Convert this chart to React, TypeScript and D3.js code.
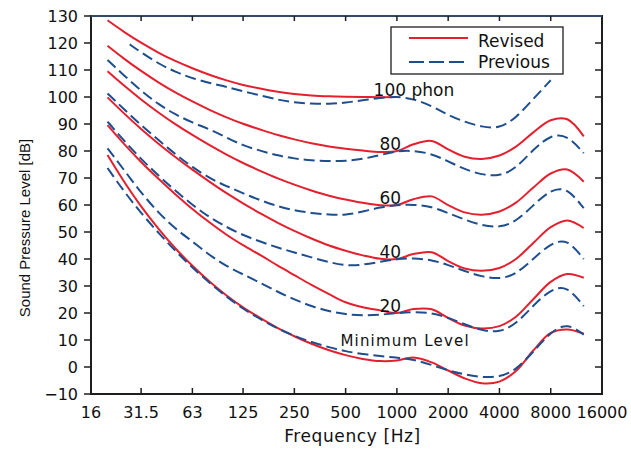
import { useEffect, useRef } from "react";
import * as d3 from "d3";

// nominal 1/3-octave frequencies [Hz]
const FREQS = [
  20, 25, 31.5, 40, 50, 63, 80, 100, 125, 160, 200, 250, 315, 400, 500, 630,
  800, 1000, 1250, 1600, 2000, 2500, 3150, 4000, 5000, 6300, 8000, 10000, 12500,
];

// revised contours [dB]
const REVISED_100 = [
  128.41, 124.15, 120.11, 116.38, 113.35, 110.65, 108.16, 106.17, 104.48,
  103.03, 101.94, 101.12, 100.56, 100.24, 100.09, 100.01, 99.94, 100,
];
const REVISED_80 = [
  118.99, 114.23, 109.65, 105.34, 101.72, 98.36, 95.17, 92.48, 90.09, 87.82,
  85.92, 84.31, 82.89, 81.68, 80.86, 80.17, 79.67, 80, 82.48, 83.74, 80.59,
  77.89, 77.07, 78.31, 81.62, 86.81, 91.41, 91.74, 85.41,
];
const REVISED_60 = [
  109.51, 104.23, 99.08, 94.18, 89.96, 85.94, 82.05, 78.65, 75.56, 72.47,
  69.86, 67.53, 65.39, 63.45, 62.05, 60.81, 59.88, 60, 62.15, 63.19, 59.96,
  57.26, 56.42, 57.57, 60.89, 66.36, 71.66, 73.15, 68.63,
];
const REVISED_40 = [
  99.85, 93.94, 88.17, 82.63, 77.78, 73.08, 68.48, 64.37, 60.59, 56.7, 53.41,
  50.4, 47.58, 44.98, 43.05, 41.34, 40.06, 40.01, 41.82, 42.51, 39.23, 36.51,
  35.61, 36.65, 40.01, 45.83, 51.8, 54.29, 51.49,
];
const REVISED_20 = [
  89.58, 82.65, 75.95, 69.62, 64.02, 58.55, 53.4, 48.97, 45.1, 41.22, 37.53,
  34.02, 30.43, 26.99, 23.97, 22.11, 20.97, 20, 21.46, 21.4, 18.15, 15.38,
  14.26, 15.14, 18.63, 25.02, 31.52, 34.43, 33.04,
];
const REVISED_MIN = [
  78.5, 68.7, 59.5, 51.1, 44.0, 37.5, 31.5, 26.5, 22.1, 17.9, 14.4, 11.4, 8.6,
  6.2, 4.4, 3.0, 2.2, 2.4, 3.5, 1.7, -1.3, -4.2, -6.0, -5.4, -1.5, 6.0, 12.6,
  13.9, 12.3,
];

// previous contours [dB]
const PREVIOUS_100_FREQS = [
  27, 31.5, 40, 50, 63, 80, 100, 125, 160, 200, 250, 315, 400, 500, 630, 800,
  1000, 1250, 1600, 2000, 2500, 3150, 4000, 5000, 6300, 8000,
];
const PREVIOUS_100 = [
  119.5, 116.5, 112.3, 109.3, 106.9, 105.1, 103.8, 102.1, 100.5, 99, 97.9,
  97.5, 97.4, 97.9, 98.8, 99.7, 100.2, 99.3, 96.8, 93.2, 90.8, 88.9, 88.3,
  92.2, 99.2, 106.2,
];
const PREVIOUS_80 = [
  113.7, 108, 102.3, 97.2, 93.5, 90.5, 88, 85, 82, 80, 78.3, 77.2, 76.5, 76.2,
  76.3, 77, 78.5, 80, 80.2, 79, 76.2, 73.2, 71.2, 70.6, 73.5, 80.5, 86, 86,
  79.2,
];
const PREVIOUS_60 = [
  101.3, 95.5, 89.5, 84, 78.8, 74, 69.8, 67, 64.3, 61.6, 59.5, 58, 57, 56.4,
  56.3, 57.5, 59.2, 60, 60.2, 59.4, 57, 54.6, 52.4, 51.6, 53.8, 59.8, 65.8,
  66.5, 58.8,
];
const PREVIOUS_40 = [
  90.9, 83.8, 77, 70.8, 65.3, 60, 55.3, 51.8, 48.8, 46.3, 44.2, 42.4, 40.6,
  38.8, 37.5, 37.8, 39, 40, 40.3, 39.7, 37.8, 35.5, 33.5, 32.5, 34.3, 40, 45.8,
  47.6, 40,
];
const PREVIOUS_20 = [
  81, 73, 64.5, 57, 51.2, 46.5, 41.3, 37.3, 34.3, 31, 27.8, 25, 22.5, 20.6,
  19.5, 19.1, 19.3, 20, 20.4, 20.1, 18.3, 15.8, 13.5, 12.8, 15.8, 22.7, 28.8,
  30.2, 22.5,
];
const PREVIOUS_MIN = [
  73.7, 65, 57, 49.5, 43, 36.8, 31, 26, 21.5, 17.5, 14.2, 11.5, 9.2, 7.3, 5.8,
  4.8, 4, 3.5, 2.8, 0.8, -1.3, -2.8, -3.8, -3.8, -1.2, 5.5, 13, 16.4, 12,
];

const X_TICKS = [16, 31.5, 63, 125, 250, 500, 1000, 2000, 4000, 8000, 16000];
const X_TICK_LABELS = [
  "16", "31.5", "63", "125", "250", "500", "1000", "2000", "4000", "8000", "16000",
];
const Y_TICKS = [130, 120, 110, 100, 90, 80, 70, 60, 50, 40, 30, 20, 10, 0, -10];

// contour labels: text, start frequency, level
const LABEL_TEXTS = ["100 phon", "80", "60", "40", "20", "Minimum Level"];
const LABEL_FREQS = [730, 790, 790, 790, 790, 466];
const LABEL_LEVELS = [100, 80, 60, 40, 20, 7.5];

const RED = "#e5202e";
const BLUE = "#1f4e8f";
const FRAME = "#1e1e1e";
const TEXT_FONT = "'DejaVu Sans', sans-serif";

const W = 631;
const H = 450;

export default function App() {
  const ref = useRef<SVGSVGElement | null>(null);

  useEffect(() => {
    const el = ref.current;
    if (!el) return;
    const svg = d3.select(el);
    svg.selectAll("*").remove();

    const margin = { top: 16, right: 29, bottom: 56, left: 91 };
    const x = d3
      .scaleLog()
      .base(2)
      .domain([16, 16000])
      .range([margin.left, W - margin.right]);
    const y = d3
      .scaleLinear()
      .domain([-10, 130])
      .range([H - margin.bottom, margin.top]);

    const revLine = d3
      .line<[number, number]>()
      .x((d) => x(d[0]))
      .y((d) => y(d[1]))
      .curve(d3.curveCatmullRom.alpha(0.5));
    const prevLine = d3
      .line<[number, number]>()
      .x((d) => x(d[0]))
      .y((d) => y(d[1]))
      .curve(d3.curveBasis);

    const zip = (fs: number[], vs: number[]) =>
      vs.map((v, i) => [fs[i], v] as [number, number]);

    const revised = [
      REVISED_100, REVISED_80, REVISED_60, REVISED_40, REVISED_20, REVISED_MIN,
    ].map((vs) => zip(FREQS, vs));
    const previous = [
      zip(PREVIOUS_100_FREQS, PREVIOUS_100),
      ...[PREVIOUS_80, PREVIOUS_60, PREVIOUS_40, PREVIOUS_20, PREVIOUS_MIN].map(
        (vs) => zip(FREQS, vs)
      ),
    ];

    const plot = svg.append("g");

    plot
      .selectAll("path.rev")
      .data(revised)
      .join("path")
      .attr("class", "rev")
      .attr("d", (d) => revLine(d))
      .attr("fill", "none")
      .attr("stroke", RED)
      .attr("stroke-width", 2);

    plot
      .selectAll("path.prev")
      .data(previous)
      .join("path")
      .attr("class", "prev")
      .attr("d", (d) => prevLine(d))
      .attr("fill", "none")
      .attr("stroke", BLUE)
      .attr("stroke-width", 2)
      .attr("stroke-dasharray", "11,5");

    // contour labels
    svg
      .append("g")
      .selectAll("text")
      .data(LABEL_TEXTS)
      .join("text")
      .attr("x", (_, i) => x(LABEL_FREQS[i]))
      .attr("y", (_, i) => y(LABEL_LEVELS[i]) - 1)
      .attr("font-family", TEXT_FONT)
      .attr("font-size", (_, i) => (i === 5 ? 15 : 17))
      .attr("letter-spacing", (_, i) => (i === 5 ? 1.2 : 0))
      .attr("fill", "#111")
      .text((d) => d);

    // frame
    const [x0, x1] = x.range();
    const [yb, yt] = y.range();
    svg
      .append("rect")
      .attr("x", x0)
      .attr("y", yt)
      .attr("width", x1 - x0)
      .attr("height", yb - yt)
      .attr("fill", "none")
      .attr("stroke", FRAME)
      .attr("stroke-width", 2);
    svg
      .append("line")
      .attr("x1", x0)
      .attr("x2", x1)
      .attr("y1", yt)
      .attr("y2", yt)
      .attr("stroke", "#2e4b6a")
      .attr("stroke-width", 2);

    // x ticks (inward, bottom and top)
    const xt = svg.append("g");
    X_TICKS.slice(1, -1).forEach((f) => {
      xt.append("line")
        .attr("x1", x(f)).attr("x2", x(f))
        .attr("y1", yb).attr("y2", yb - 6)
        .attr("stroke", FRAME).attr("stroke-width", 1.5);
      xt.append("line")
        .attr("x1", x(f)).attr("x2", x(f))
        .attr("y1", yt).attr("y2", yt + 5)
        .attr("stroke", FRAME).attr("stroke-width", 1.5);
    });
    xt.selectAll("text")
      .data(X_TICKS)
      .join("text")
      .attr("x", (d) => x(d))
      .attr("y", yb + 24)
      .attr("text-anchor", "middle")
      .attr("font-family", TEXT_FONT)
      .attr("font-size", 16)
      .attr("fill", "#111")
      .text((_, i) => X_TICK_LABELS[i]);

    // y ticks (outward left, inward right)
    const yg = svg.append("g");
    Y_TICKS.forEach((v) => {
      yg.append("line")
        .attr("x1", x0 - 7).attr("x2", x0)
        .attr("y1", y(v)).attr("y2", y(v))
        .attr("stroke", FRAME).attr("stroke-width", 1.5);
      if (v !== 130 && v !== -10) {
        yg.append("line")
          .attr("x1", x1 - 7).attr("x2", x1)
          .attr("y1", y(v)).attr("y2", y(v))
          .attr("stroke", FRAME).attr("stroke-width", 1.5);
      }
    });
    yg.selectAll("text")
      .data(Y_TICKS)
      .join("text")
      .attr("x", x0 - 13)
      .attr("y", (d) => y(d))
      .attr("dy", "0.38em")
      .attr("text-anchor", "end")
      .attr("font-family", TEXT_FONT)
      .attr("font-size", 16)
      .attr("fill", "#111")
      .text((d) => (d < 0 ? `\u2212${Math.abs(d)}` : String(d)));

    // axis titles
    svg
      .append("text")
      .attr("x", (x0 + x1) / 2 + 6)
      .attr("y", 442)
      .attr("text-anchor", "middle")
      .attr("font-family", TEXT_FONT)
      .attr("font-size", 17)
      .attr("letter-spacing", 0.6)
      .attr("fill", "#111")
      .text("Frequency [Hz]");
    svg
      .append("text")
      .attr("transform", `translate(30,${(yt + yb) / 2 + 23}) rotate(-90)`)
      .attr("text-anchor", "middle")
      .attr("font-family", "'Liberation Sans', Arial, sans-serif")
      .attr("font-size", 15)
      .attr("fill", "#111")
      .text("Sound Pressure Level [dB]");

    // legend
    const lg = svg.append("g");
    lg.append("rect")
      .attr("x", 391).attr("y", 27)
      .attr("width", 172).attr("height", 47)
      .attr("fill", "#fff")
      .attr("stroke", FRAME).attr("stroke-width", 1.3);
    lg.append("line")
      .attr("x1", 409).attr("x2", 468).attr("y1", 38).attr("y2", 38)
      .attr("stroke", RED).attr("stroke-width", 2);
    lg.append("line")
      .attr("x1", 409).attr("x2", 468).attr("y1", 62).attr("y2", 62)
      .attr("stroke", BLUE).attr("stroke-width", 2)
      .attr("stroke-dasharray", "15,5");
    lg.append("text")
      .attr("x", 478).attr("y", 47)
      .attr("font-family", TEXT_FONT).attr("font-size", 17)
      .attr("fill", "#111").text("Revised");
    lg.append("text")
      .attr("x", 478).attr("y", 68)
      .attr("font-family", TEXT_FONT).attr("font-size", 17)
      .attr("fill", "#111").text("Previous");
  }, []);

  return (
    <svg
      ref={ref}
      width={W}
      height={H}
      viewBox={`0 0 ${W} ${H}`}
      style={{ position: "absolute", left: 0, top: 0, background: "#fff" }}
    />
  );
}
